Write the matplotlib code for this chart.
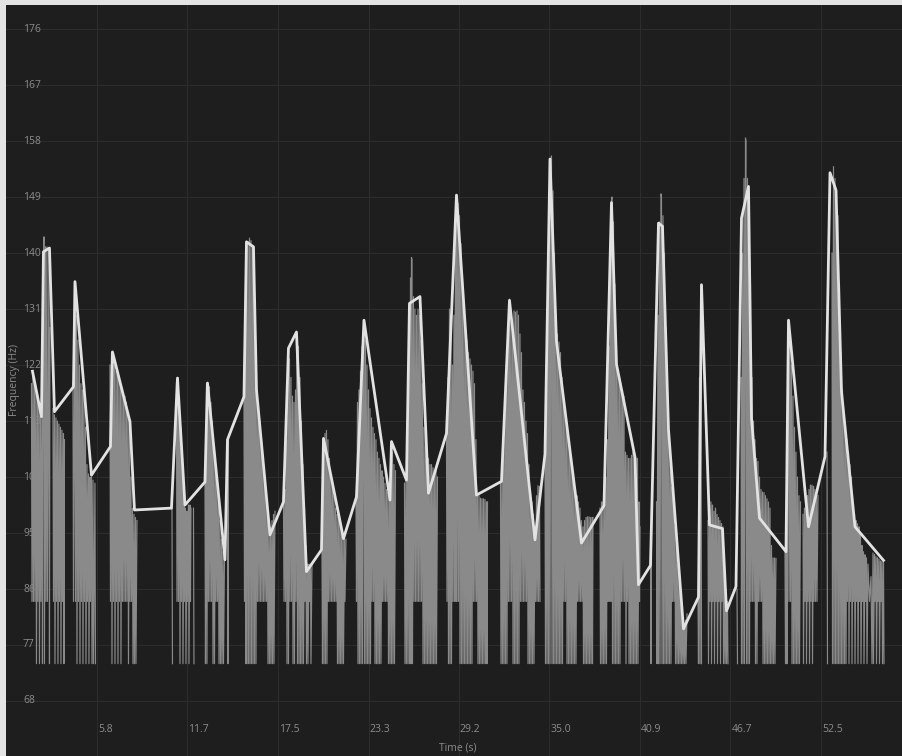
import numpy as np
import matplotlib
matplotlib.use("Agg")
from matplotlib import pyplot as plt
from matplotlib import transforms

plt.rcParams["font.family"] = ["Open Sans", "DejaVu Sans"]

FPS = 31.01  # pitch frames per second

y_ticks = [68, 77, 86, 95, 104, 113, 122, 131, 140, 149, 158, 167, 176]
x_ticks = [5.84, 11.67, 17.51, 23.35, 29.18, 35.02, 40.86, 46.69, 52.53]
x_labels = ["5.8", "11.7", "17.5", "23.3", "29.2", "35.0", "40.9", "46.7", "52.5"]

# smoothed contour (white)
smooth_frame = [52, 70, 74, 86, 96, 134, 137, 170, 208, 212,
                247, 256, 330, 342, 357, 397, 402, 437, 442, 475,
                480, 494, 500, 527, 554, 564, 580, 600, 630, 634,
                674, 700, 715, 767, 770, 800, 806, 827, 844, 880,
                900, 940, 990, 1006, 1057, 1077, 1087, 1100, 1150, 1195,
                1210, 1220, 1257, 1264, 1288, 1304, 1312, 1324, 1354, 1384,
                1390, 1406, 1432, 1440, 1459, 1470, 1484, 1490, 1506, 1559,
                1564, 1604, 1637, 1647, 1659, 1670, 1697, 1754]
smooth_hz = [121, 113.7, 140.2, 140.8, 114.5, 118.5, 135.4, 104.3, 108.9, 124.1,
             112.9, 98.7, 99.0, 119.9, 99.5, 103.2, 119.1, 90.7, 110, 116.9,
             141.8, 141, 118, 94.7, 100, 124.7, 127.3, 88.8, 92.3, 110.2,
             94.1, 100.8, 129.2, 100.3, 109.7, 103.5, 131.9, 133, 101.4, 111,
             149.3, 101.1, 103.3, 132.4, 93.9, 107.7, 155.1, 125.7, 93.4, 99.4,
             148.1, 122.1, 107.2, 86.7, 89.8, 144.8, 144.3, 111.6, 79.6, 84.7,
             134.9, 96.3, 95.7, 82.5, 86.4, 145.6, 150.7, 113.5, 97.4, 92.0,
             129.2, 96.0, 107.3, 152.9, 150.1, 117.7, 96.0, 90.6]

# raw pitch track (gray), unvoiced frames drop to 74 / 84
gray_frame = [
    50, 51, 53, 54, 56, 57, 59, 60, 62, 63, 65, 66, 68, 69, 71, 72, 74, 75, 76, 78, 79, 81, 82, 85, 86, 87,
    93, 94, 96, 97, 99, 100, 102, 103, 105, 106, 108, 109, 111, 112, 114, 115, 116,
    133, 134, 137, 138, 140, 141, 143, 144, 146, 147, 149, 150, 152, 153, 155, 156, 158, 159, 161, 162, 164, 165, 167, 168, 170, 171, 173, 174, 177, 178,
    207, 208, 210, 211, 213, 214, 216, 217, 219, 220, 222, 223, 225, 226, 228, 229, 231, 232, 234, 235, 237, 238, 240, 241, 243, 244, 246, 247, 249, 250, 252, 253, 255, 256, 258, 259, 261,
    331, 332,
    340, 341, 343, 344, 346, 347, 349, 350, 352, 353, 355, 356, 358, 359, 361, 362, 364, 365, 367, 368, 369,
    374, 375,
    397, 398, 400, 401, 403, 404, 406, 407, 409, 410, 412, 413, 415, 416, 418, 419, 421, 422, 424, 425, 427, 428, 430, 431, 433, 434, 436,
    442, 443, 444,
    475, 476, 478, 479, 480, 481, 483, 484, 486, 487, 489, 490, 492, 493, 495, 496, 498, 499, 501, 502, 504, 505, 507, 508, 510, 511, 513, 514, 516, 517, 519, 520, 522, 523, 525, 526, 528, 529, 531, 532, 534, 535, 537,
    554, 555, 557, 558, 560, 561, 563, 564, 566, 567, 569, 570, 572, 573, 575, 576, 578, 579, 581, 582, 584, 585, 587, 588, 590, 591, 593, 594, 596, 597, 599, 600, 602, 603, 605, 606, 608, 609, 611,
    631, 632, 634, 635, 637, 638, 640, 641, 643, 644, 646, 647, 649, 650, 652, 653, 655, 656, 658, 659, 661, 662, 664, 665, 667, 668, 670, 671, 673, 674, 676, 677, 679,
    699, 700, 702, 703, 705, 706, 708, 709, 711, 712, 714, 715, 716, 718, 719, 721, 722, 724, 725, 727, 728, 730, 731, 733, 734, 736, 737, 739, 740, 742, 743, 745, 746, 748, 749, 751, 752, 754, 755, 757, 758, 760, 761, 763, 764, 766, 767, 769, 770, 772, 773, 775, 776, 778,
    796, 797, 799, 800, 802, 803, 805, 806, 808, 809, 810, 811, 812, 814, 815, 817, 818, 820, 821, 823, 824, 826, 827, 829, 830, 832, 833, 835, 836, 838, 839, 841, 842, 844, 845, 847, 848, 850, 851, 853, 854, 856, 857, 859, 860, 862,
    880, 881, 883, 884, 886, 887, 889, 890, 892, 893, 895, 896, 898, 899, 900, 901, 903, 904, 906, 907, 909, 910, 912, 913, 915, 916, 918, 919, 921, 922, 924, 925, 927, 928, 930, 931, 933, 934, 936, 937, 939, 940, 942, 943, 945, 946, 948, 949, 951, 952, 954, 955, 957, 958, 960, 961, 962,
    988, 989, 991, 992, 994, 995, 997, 998, 1000, 1001, 1003, 1004, 1006, 1007, 1009, 1010, 1012, 1013, 1015, 1016, 1018, 1019, 1021, 1022, 1024, 1025, 1027, 1028, 1030, 1031, 1033, 1034, 1036, 1037, 1039, 1040, 1042, 1043, 1045, 1046, 1048, 1049, 1051, 1052, 1054, 1055, 1057, 1058, 1060, 1061, 1063, 1064, 1066, 1067,
    1077, 1078, 1080, 1081, 1083, 1084, 1086, 1087, 1089, 1090, 1091, 1093, 1094, 1096, 1097, 1099, 1100, 1102, 1103, 1105, 1106, 1108, 1109, 1111, 1112, 1114, 1115, 1117, 1118, 1120, 1121, 1123, 1124, 1126, 1127, 1129, 1130, 1132, 1133, 1135, 1136, 1138, 1139, 1141, 1142, 1144, 1145, 1147, 1148, 1150, 1151, 1153, 1154, 1156, 1157, 1159, 1160, 1162, 1163, 1165, 1166, 1168, 1169, 1171, 1172, 1173,
    1187, 1188, 1190, 1191, 1193, 1194, 1196, 1197, 1199, 1200, 1202, 1203, 1205, 1206, 1208, 1209, 1210, 1211, 1212, 1214, 1215, 1217, 1218, 1220, 1221, 1223, 1224, 1226, 1227, 1229, 1230, 1232, 1233, 1235, 1236, 1238, 1239, 1241, 1242, 1244, 1245, 1247, 1248, 1250, 1251, 1253, 1254, 1256, 1257, 1259, 1260, 1262, 1263, 1265, 1266, 1267,
    1288, 1289, 1290,
    1300, 1301, 1303, 1304, 1306, 1307, 1309, 1310, 1311, 1313, 1314, 1316, 1317, 1319, 1320, 1322, 1323, 1325, 1326, 1328, 1329, 1331, 1332, 1334, 1335, 1337, 1338, 1340, 1341, 1343, 1344, 1346, 1347, 1349, 1350, 1352, 1353, 1355, 1356, 1358, 1359, 1361,
    1383, 1384, 1386, 1387, 1389, 1390,
    1403, 1404, 1406, 1407, 1409, 1410, 1412, 1413, 1415, 1416, 1418, 1419, 1421, 1422, 1424, 1425, 1427, 1428, 1430, 1431, 1433, 1434, 1436, 1437, 1439, 1440, 1442, 1443,
    1461, 1462,
    1469, 1470, 1472, 1473, 1475, 1476, 1478, 1479, 1480, 1482, 1483, 1485, 1486, 1488, 1489, 1491, 1492, 1494, 1495, 1497, 1498, 1500, 1501, 1503, 1504, 1506, 1507, 1509, 1510, 1512, 1513, 1515, 1516, 1518, 1519, 1521, 1522, 1524, 1525, 1527, 1528, 1530, 1531, 1533, 1534, 1536, 1537, 1539,
    1557, 1558, 1560, 1561, 1563, 1564, 1565, 1567, 1568, 1570, 1571, 1573, 1574, 1576, 1577, 1579, 1580, 1582, 1583, 1585, 1586, 1588,
    1593, 1594, 1596, 1597, 1599, 1600, 1602, 1603, 1605, 1606, 1608, 1609, 1611, 1612, 1614, 1615, 1617, 1618, 1620, 1621, 1623,
    1641, 1642,
    1651, 1652, 1654, 1655, 1657, 1658, 1660, 1661, 1663, 1664, 1666, 1667, 1669, 1670, 1672, 1673, 1675, 1676, 1678, 1679, 1681, 1682, 1684, 1685, 1687, 1688, 1690, 1691, 1693, 1694, 1696, 1697, 1699, 1700, 1702, 1703, 1705, 1706, 1708, 1709, 1711, 1712, 1714, 1715, 1717, 1718, 1720, 1721, 1723, 1726, 1729, 1731, 1733, 1734, 1736, 1737, 1739, 1740, 1742, 1743, 1745, 1746, 1748, 1749, 1751, 1752, 1754, 1755,
]
gray_hz = [
    119, 84, 121, 84, 120, 84, 118, 74, 117, 84, 116, 74, 115, 84, 114, 74, 140, 142.6, 74, 141, 84, 141, 84, 140, 74, 128,
    115, 84, 114, 74, 113.5, 84, 113, 74, 112.5, 84, 112, 74, 111.5, 84, 111, 74, 110,
    119, 84, 135.4, 84, 130, 74, 126, 84, 122, 74, 119, 84, 118, 74, 117.5, 84, 112, 74, 106, 84, 104.5, 74, 104, 84, 104, 74, 103.5, 74, 103, 74,
    122, 84, 124, 74, 123, 84, 122, 74, 121, 84, 120.5, 74, 119.5, 84, 119, 74, 118, 84, 117.5, 84, 117, 84, 116, 84, 114, 74, 112, 84, 104, 84, 99, 74, 98, 74, 97.5, 74, 97,
    99, 74,
    119, 84, 120, 84, 117, 74, 112, 84, 107, 74, 101, 84, 99, 74, 98.5, 84, 99.5, 74, 99.5, 84, 99,
    99, 74,
    103, 74, 119, 74, 119, 84, 118.5, 84, 116, 84, 113, 74, 109, 74, 106, 84, 103, 84, 100, 74, 97, 74, 94, 74, 92, 74, 91,
    108, 74, 110,
    117, 84, 130, 74, 141.5, 74, 141.8, 74, 142.4, 74, 142, 74, 141, 74, 135, 74, 125, 74, 118, 84, 116, 84, 113, 84, 110, 84, 107, 84, 104, 84, 101, 84, 98, 74, 96, 74, 96, 74, 97, 74, 98, 74, 98.5,
    100, 84, 102, 84, 110, 74, 124.7, 74, 123, 84, 120, 84, 117, 74, 116, 74, 118, 84, 127, 74, 125, 74, 120, 74, 113, 74, 106, 74, 99, 84, 93, 74, 90, 74, 90, 84, 90, 74, 90,
    92, 74, 110, 74, 111, 74, 111.5, 74, 110, 84, 107, 84, 104, 84, 102.5, 84, 101, 84, 99, 84, 98, 74, 98, 74, 97, 74, 96, 74, 94.5, 74, 94, 84, 94,
    101, 84, 116, 74, 118, 74, 121, 74, 125, 74, 129, 129.2, 74, 126, 74, 122, 74, 118, 74, 115, 74, 113.5, 84, 112, 84, 111, 74, 110, 74, 108, 74, 107, 74, 106, 74, 105, 84, 104, 84, 103, 84, 102, 84, 101.5, 74, 101, 74, 109, 74, 108, 74, 106, 74, 105,
    103, 74, 104, 74, 110, 74, 125, 74, 136, 74, 139.3, 139, 74, 133, 84, 131, 84, 130, 84, 131, 84, 130, 84, 126, 84, 119, 74, 112, 74, 109, 74, 108, 74, 107, 74, 106, 74, 106, 74, 105.5, 74, 105, 74, 105, 74, 104,
    111, 84, 120, 74, 131, 74, 128, 74, 122, 84, 130, 84, 142, 84, 149.4, 84, 148, 84, 146, 74, 141.5, 74, 136, 74, 130, 74, 128, 74, 126, 74, 124, 74, 123, 74, 122, 74, 121, 84, 119, 84, 110, 84, 101, 74, 101, 74, 100.6, 74, 100.5, 74, 100.5, 74, 100.4, 74, 100, 74, 100,
    103, 74, 104, 74, 108, 74, 114, 74, 120, 74, 127, 84, 132.6, 84, 129, 84, 127, 74, 130.7, 74, 130.5, 74, 130.7, 74, 130, 74, 127, 84, 124, 84, 118, 84, 116, 84, 113, 84, 111, 74, 106, 74, 101.7, 74, 100, 74, 98, 74, 96, 84, 101, 84, 102.6, 84, 102.5, 84,
    108, 74, 118, 74, 132, 74, 146, 74, 155, 155.6, 74, 150, 74, 140, 74, 130, 74, 127, 74, 125.7, 74, 124, 74, 120, 74, 117, 84, 114, 84, 112, 74, 110, 74, 108, 74, 107, 74, 105, 74, 103.5, 74, 102, 74, 101, 84, 100, 84, 99, 84, 97, 84, 96, 74, 97, 74, 97.5, 74, 97.6, 74, 97.6, 74, 97.5, 74, 97.5, 74, 97.5,
    99, 74, 100, 74, 100, 74, 101, 74, 104, 74, 110, 84, 125, 84, 140, 84, 148.5, 149, 74, 145, 74, 135, 74, 125, 74, 121, 74, 120, 74, 119, 84, 118, 84, 117, 84, 108, 74, 107.5, 84, 107, 74, 107, 74, 107.5, 74, 108, 74, 108, 74, 107, 74, 107, 74, 100, 84, 96,
    90, 74, 91,
    100, 74, 130, 74, 145, 74, 149.5, 149, 74, 146, 74, 140, 74, 128, 74, 116, 74, 110, 74, 106, 74, 102.4, 84, 99, 84, 96, 74, 93, 74, 90, 74, 87, 74, 84.5, 74, 82, 74, 80.5, 74, 81, 74, 82,
    84.7, 74, 120, 74, 134.9, 74,
    97, 74, 99, 84, 100, 74, 99.5, 84, 98.5, 74, 99, 84, 98, 74, 97.5, 84, 97, 74, 96.5, 84, 96, 74, 90, 74, 85, 74, 84, 74,
    86, 74,
    120, 74, 140, 74, 152, 74, 158.5, 158, 74, 152, 74, 149, 74, 135, 84, 120, 84, 113, 84, 110, 74, 107, 74, 106.5, 84, 104, 84, 102, 84, 101.6, 74, 101.5, 74, 101, 74, 100.5, 74, 100, 74, 99, 74, 93, 74, 91, 74, 91, 74, 90.9,
    92, 74, 100, 74, 125, 129.2, 84, 126, 84, 122, 74, 117, 74, 112, 74, 108, 74, 104, 74, 101, 74, 100,
    98, 74, 99, 84, 100, 74, 101, 84, 102, 74, 102.7, 84, 102.7, 74, 102.5, 84, 102, 84, 101.5, 84, 101,
    108, 74,
    140, 74, 153.9, 74, 152, 74, 150, 74, 146, 74, 135, 74, 124, 74, 118, 74, 114, 74, 112, 74, 110, 84, 108, 74, 106, 84, 104, 74, 100, 84, 98, 74, 97, 84, 96.5, 74, 96, 84, 95, 74, 93, 84, 92, 74, 91.5, 84, 91, 74, 90, 84, 88, 74, 91.8, 74, 91.5, 84, 91.2, 74, 91, 84, 90.8, 74, 90.5, 84, 90.4, 74, 90.3, 74,
]
assert len(gray_frame) == len(gray_hz)

fig = plt.figure(figsize=(9.03, 7.56), dpi=100, facecolor="#e4e4e4")
ax = fig.add_axes([6 / 903, 0, 897 / 903, 751 / 756])
ax.set_facecolor("#1e1e1e")
ax.set_xlim(-0.03, 57.82)
ax.set_ylim(59.16, 179.86)
for s in ax.spines.values():
    s.set_visible(False)

ax.set_xticks(x_ticks)
ax.set_yticks(y_ticks)
ax.tick_params(length=0, labelbottom=False, labelleft=False)
ax.grid(True, color="#2c2c2c", lw=0.8)
ax.set_axisbelow(True)

# gray track, broken where there are no frames
gf = np.array(gray_frame, dtype=float)
gh = np.array(gray_hz, dtype=float)
cuts = np.where(np.diff(gf) > 4)[0] + 1
for seg_f, seg_h in zip(np.split(gf, cuts), np.split(gh, cuts)):
    ax.plot(seg_f / FPS, seg_h, color="#8a8a8a", lw=0.85, zorder=2)

ax.plot(np.array(smooth_frame) / FPS, smooth_hz, color="#e2e2e2", lw=2.0, zorder=3)

# tick labels drawn inside the plot
ytr = transforms.blended_transform_factory(ax.transAxes, ax.transData)
for v in y_ticks:
    ax.text(0.019, v, str(v), transform=ytr, ha="left", va="center",
            fontsize=7.5, color="#8c8c8c")
xtr = transforms.blended_transform_factory(ax.transData, ax.transAxes)
for v, lab in zip(x_ticks, x_labels):
    ax.text(v + 0.06, 0.035, lab, transform=xtr, ha="left", va="center",
            fontsize=7.5, color="#8c8c8c")

ax.text(0.504, 0.011, "Time (s)", transform=ax.transAxes, ha="center", va="center",
        fontsize=7.5, color="#8c8c8c")
ax.text(0.009, 0.50, "Frequency (Hz)", transform=ax.transAxes, rotation=90,
        ha="center", va="center", fontsize=7.5, color="#8c8c8c")

fig.savefig("out.png", dpi=100, facecolor=fig.get_facecolor())
